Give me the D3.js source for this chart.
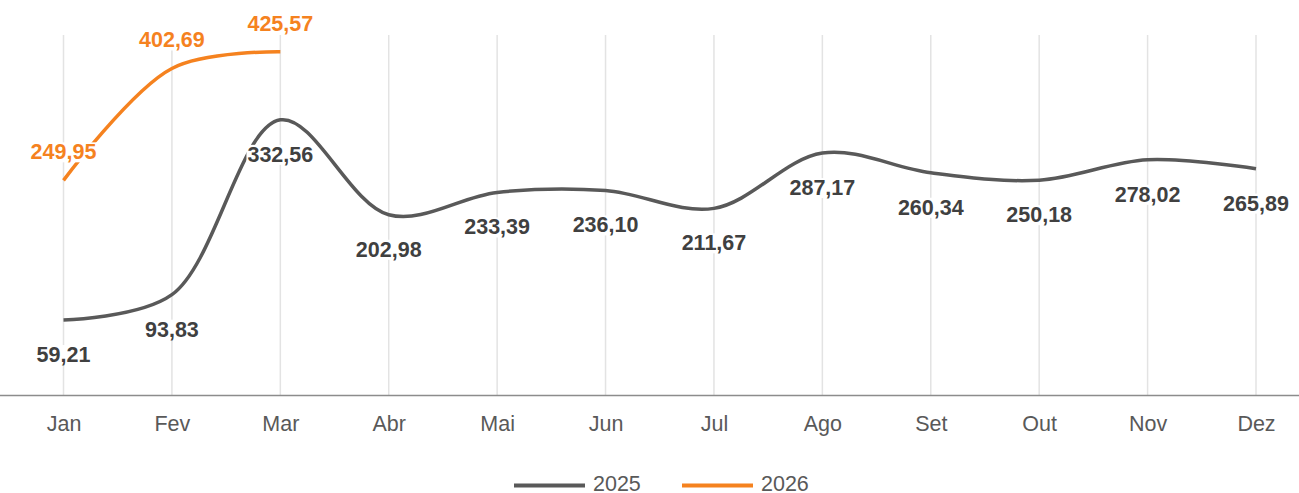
<!DOCTYPE html>
<html>
<head>
<meta charset="utf-8">
<script src="https://cdn.jsdelivr.net/npm/d3@7"></script>
<style>
  body { margin: 0; background: #fff; }
  svg text { font-family: "Liberation Sans", Arial, sans-serif; }
</style>
</head>
<body>
<div id="chart"></div>
<script>
var months = ['Jan', 'Fev', 'Mar', 'Abr', 'Mai', 'Jun', 'Jul', 'Ago', 'Set', 'Out', 'Nov', 'Dez'];
var values2025 = [59.21, 93.83, 332.56, 202.98, 233.39, 236.10, 211.67, 287.17, 260.34, 250.18, 278.02, 265.89];
var values2026 = [249.95, 402.69, 425.57];
var seriesNames = ['2025', '2026'];
var seriesColors = ['#595959', '#f5821f'];

var width = 1299, height = 493;

var svg = d3.select('#chart').append('svg')
    .attr('width', width)
    .attr('height', height);

var x = d3.scalePoint()
    .domain(months)
    .range([63.5, 1256]);

// value scale, axis line itself sits a bit below zero
var y = d3.scaleLinear()
    .domain([0, 450])
    .range([363.4, 363.4 - 450 * 0.7324]);

var baseY = 395.5;

// vertical grid lines
svg.append('g').selectAll('line')
    .data(months)
    .enter().append('line')
    .attr('x1', function (d) { return x(d); })
    .attr('x2', function (d) { return x(d); })
    .attr('y1', 35)
    .attr('y2', baseY)
    .style('stroke', '#e3e3e3')
    .style('stroke-width', 1.5);

// bottom axis
var xAxis = d3.axisBottom(x).tickSize(0).tickPadding(20);
var axisG = svg.append('g')
    .attr('transform', 'translate(0,' + baseY + ')')
    .call(xAxis);
axisG.select('.domain').remove();
axisG.selectAll('text')
    .style('font-size', '21.5px')
    .style('fill', '#595959');
svg.append('line')
    .attr('x1', 0).attr('x2', width)
    .attr('y1', baseY).attr('y2', baseY)
    .style('stroke', '#8c8c8c')
    .style('stroke-width', 1.5);

var line = d3.line()
    .x(function (d, i) { return x(months[i]); })
    .y(function (d) { return y(d); })
    .curve(d3.curveCatmullRom.alpha(0.5));

var allSeries = [values2025, values2026];

svg.append('g').selectAll('path')
    .data(allSeries)
    .enter().append('path')
    .attr('d', function (d) { return line(d); })
    .style('fill', 'none')
    .style('stroke', function (d, i) { return seriesColors[i]; })
    .style('stroke-width', 3.5);

// data labels: 2025 below the point, 2026 above
var fmt = function (v) { return v.toFixed(2).replace('.', ','); };
allSeries.forEach(function (vals, si) {
    var g = svg.append('g');
    vals.forEach(function (v, i) {
        var lx = x(months[i]);
        var ly = y(v) + (si === 0 ? 42 : -21);
        var lg = g.append('g');
        var t = lg.append('text')
            .attr('x', lx)
            .attr('y', ly)
            .attr('text-anchor', 'middle')
            .style('font-size', '21.5px')
            .style('font-weight', 'bold')
            .style('fill', si === 0 ? '#404040' : seriesColors[1])
            .text(fmt(v));
        var bb = t.node().getBBox();
        lg.insert('rect', 'text')
            .attr('x', bb.x - 1)
            .attr('y', bb.y + 2)
            .attr('width', bb.width + 2)
            .attr('height', bb.height - 4)
            .style('fill', '#fff');
    });
});

// legend
var legend = svg.append('g');
var legendX = [514, 682];
seriesNames.forEach(function (name, i) {
    legend.append('line')
        .attr('x1', legendX[i]).attr('x2', legendX[i] + 71)
        .attr('y1', 485.5).attr('y2', 485.5)
        .style('stroke', seriesColors[i])
        .style('stroke-width', 4);
    legend.append('text')
        .attr('x', legendX[i] + 79)
        .attr('y', 491)
        .style('font-size', '21.5px')
        .style('fill', '#595959')
        .text(name);
});
</script>
</body>
</html>
